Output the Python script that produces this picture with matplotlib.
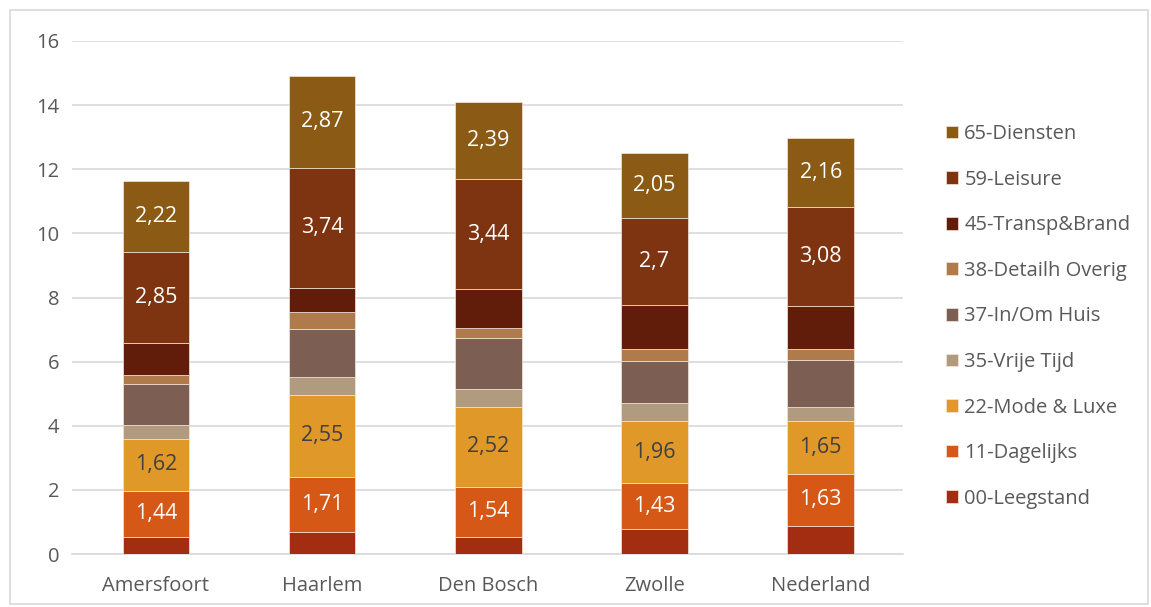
import numpy as np
import matplotlib.pyplot as plt
from matplotlib.patches import Rectangle

plt.rcParams['font.family'] = ['Open Sans', 'DejaVu Sans']

steden = ['Amersfoort', 'Haarlem', 'Den Bosch', 'Zwolle', 'Nederland']

branches = ['00-Leegstand', '11-Dagelijks', '22-Mode & Luxe', '35-Vrije Tijd',
            '37-In/Om Huis', '38-Detailh Overig', '45-Transp&Brand',
            '59-Leisure', '65-Diensten']

leegstand = [0.54, 0.70, 0.54, 0.77, 0.88]
dagelijks = [1.44, 1.71, 1.54, 1.43, 1.63]
mode_luxe = [1.62, 2.55, 2.52, 1.96, 1.65]
vrije_tijd = [0.42, 0.56, 0.54, 0.56, 0.43]
in_om_huis = [1.29, 1.49, 1.59, 1.31, 1.45]
detailh_overig = [0.27, 0.54, 0.33, 0.36, 0.36]
transp_brand = [0.99, 0.75, 1.20, 1.38, 1.35]
leisure = [2.85, 3.74, 3.44, 2.70, 3.08]
diensten = [2.22, 2.87, 2.39, 2.05, 2.16]

reeksen = [leegstand, dagelijks, mode_luxe, vrije_tijd, in_om_huis,
           detailh_overig, transp_brand, leisure, diensten]

kleuren = ['#A22D10', '#D55817', '#E09828', '#B09B7E', '#7D5E52',
           '#B07B4A', '#621C0A', '#7E3410', '#8B5A14']

# which series get value labels, and in what colour
labelkleur = {1: 'white', 2: '#404040', 7: 'white', 8: 'white'}

fig = plt.figure(figsize=(11.51, 6.07), dpi=100)
ax = fig.add_axes([72 / 1151, 1 - 554 / 607, (903 - 72) / 1151, (554 - 41) / 607])

# light frame round the whole chart
fig.patches.append(Rectangle((10 / 1151, 3 / 607), 1138 / 1151, 594 / 607,
                             transform=fig.transFigure, fill=False,
                             edgecolor='#D9D9D9', linewidth=1.2))

x = np.arange(len(steden))
bodem = np.zeros(len(steden))
for i, (naam, waarden) in enumerate(zip(branches, reeksen)):
    b = ax.bar(x, waarden, 0.40, bottom=bodem, color=kleuren[i], label=naam,
               edgecolor='#F4E6DC', linewidth=0.5, zorder=3)
    if i in labelkleur:
        teksten = [('%.2f' % v).rstrip('0').replace('.', ',') for v in waarden]
        ax.bar_label(b, labels=teksten, label_type='center', color=labelkleur[i],
                     fontsize=15.5)
    bodem += np.array(waarden)

ax.set_xlim(-0.505, 4.495)
ax.set_ylim(0, 16)
ax.set_yticks(range(0, 17, 2))
ax.set_xticks(x)
ax.set_xticklabels(steden)
ax.yaxis.grid(True, color='#D9D9D9', linewidth=1.2, zorder=0)
ax.set_axisbelow(True)
for s in ['top', 'right', 'left']:
    ax.spines[s].set_visible(False)
ax.spines['bottom'].set_color('#D9D9D9')
ax.spines['bottom'].set_linewidth(1.2)
ax.tick_params(axis='both', length=0, labelsize=14.5, colors='#595959')
ax.tick_params(axis='y', pad=9)
ax.tick_params(axis='x', pad=16)

handles, labels = ax.get_legend_handles_labels()
leg = fig.legend(handles[::-1], labels[::-1], loc='upper left',
                 bbox_to_anchor=(928 / 1151, 1 - 106 / 607), frameon=False,
                 fontsize=14.5, labelcolor='#595959', handlelength=0.6,
                 handleheight=0.6, handletextpad=0.3, labelspacing=1.27)

fig.savefig('out.png', dpi=100)
